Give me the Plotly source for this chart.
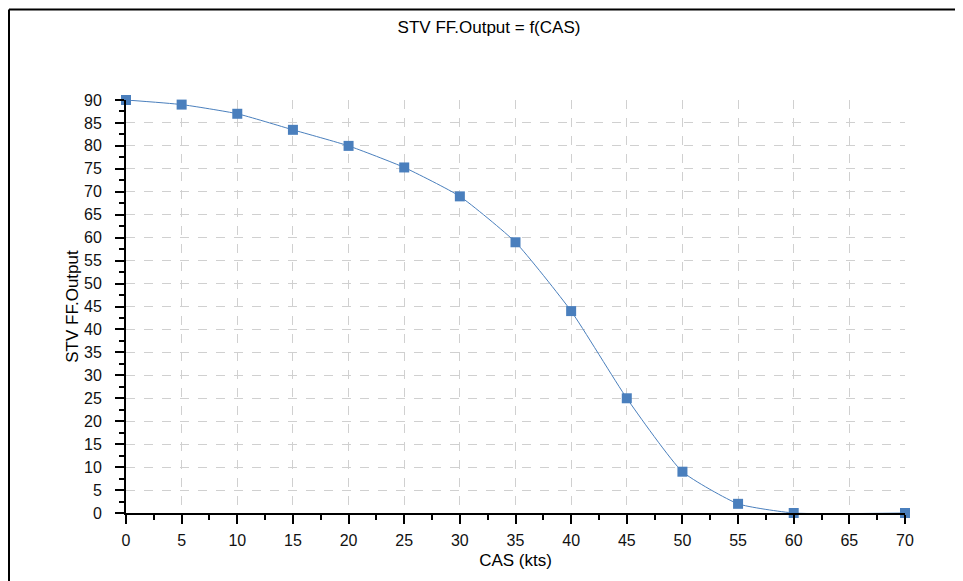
import plotly.graph_objects as go

cas = [0, 5, 10, 15, 20, 25, 30, 35, 40, 45, 50, 55, 60, 70]
output = [90, 89, 87, 83.5, 80, 75.3, 69, 59, 44, 25, 9, 2, 0, 0]
x_ticks = list(range(0, 75, 5))
y_ticks = list(range(0, 95, 5))

title_text = "STV FF.Output = f(CAS)"
x_title = "CAS (kts)"
y_title = "STV FF.Output"

blue = "#4a7fbd"
font = "Liberation Sans, Arial, sans-serif"

W, H = 955, 573
L, R, T, B = 118, 58, 92, 68
PW, PH = W - L - R, H - T - B

fig = go.Figure()
fig.add_trace(go.Scatter(
    x=cas, y=output, mode="lines+markers",
    line=dict(color=blue, width=1, shape="spline", smoothing=0.5),
    marker=dict(symbol="square", size=10, color=blue),
    cliponaxis=False, showlegend=False,
))

axis_common = dict(
    showline=True, linecolor="black", linewidth=2,
    ticks="outside", ticklen=9, tickwidth=2, tickcolor="black",
    showgrid=True, gridcolor="#d0d0d0", griddash="dash", gridwidth=1,
    zeroline=False,
    tickfont=dict(family=font, size=16, color="#111111"),
    minor=dict(dtick=2.5, ticks="outside", ticklen=5, tickwidth=2,
               tickcolor="black", showgrid=False),
)

fig.update_layout(
    width=W, height=H,
    paper_bgcolor="white", plot_bgcolor="white",
    margin=dict(l=L, r=R, t=T, b=B),
    title=dict(text=title_text, x=481 / W, xanchor="center", y=1 - 19 / H, yanchor="middle",
               font=dict(family=font, size=17, color="black")),
    xaxis=dict(range=[0, 70], tickvals=x_ticks, ticklabelstandoff=3,
               title=dict(text=x_title, standoff=6,
                          font=dict(family=font, size=17, color="black")),
               **axis_common),
    yaxis=dict(range=[0, 90], tickvals=y_ticks, ticklabelstandoff=10,
               title=dict(text=y_title, standoff=1,
                          font=dict(family=font, size=17, color="black")),
               **axis_common),
    shapes=[
        dict(type="line", xref="paper", yref="paper", x0=-(L - 1) / PW, x1=(PW + R) / PW,
             y0=1 + (T - 1.5) / PH, y1=1 + (T - 1.5) / PH, line=dict(color="black", width=2)),
        dict(type="line", xref="paper", yref="paper", x0=-(L - 1) / PW, x1=-(L - 1) / PW,
             y0=1 + (T - 1.5) / PH, y1=-B / PH, line=dict(color="black", width=2)),
    ],
)

fig.write_html("out.html")
